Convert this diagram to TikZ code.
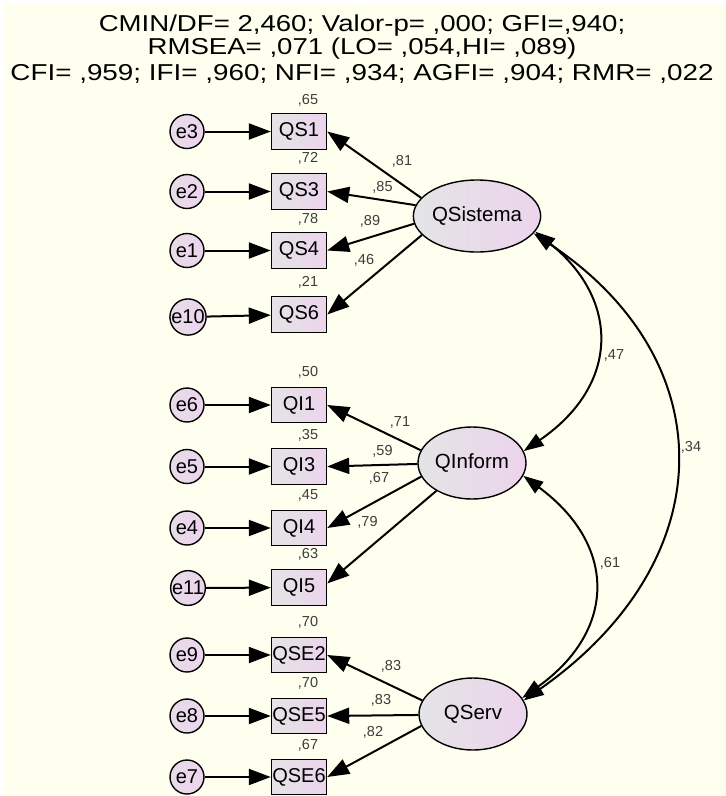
\documentclass[tikz,border=0pt]{standalone}
\usepackage{fontspec}
\setmainfont{Liberation Sans}
\usetikzlibrary{arrows.meta,shapes.geometric}
\definecolor{bgc}{RGB}{255,255,240}
\definecolor{gl}{RGB}{228,228,230}
\definecolor{pk}{RGB}{236,212,236}
\definecolor{labc}{RGB}{60,60,60}
\begin{document}
\begin{tikzpicture}[x=1pt,y=-1pt,
  obs/.style={draw=black,line width=1.4pt,left color=gl,right color=pk,minimum width=55pt,minimum height=35.5pt,inner sep=0pt,font=\fontsize{20}{24}\selectfont},
  err/.style={circle,draw=black,line width=1.4pt,left color=gl!50!pk,right color=pk,minimum size=34pt,inner sep=0pt,font=\fontsize{20}{24}\selectfont},
  lat/.style={ellipse,draw=black,line width=1.4pt,left color=gl,right color=pk,minimum width=108pt,minimum height=72pt,inner sep=0pt,font=\fontsize{20.5}{24}\selectfont},
  lab/.style={text=labc,font=\fontsize{14.5}{17}\selectfont,inner sep=0pt},
  ttl/.style={anchor=base,inner sep=0pt,font=\fontsize{23}{27}\selectfont},
  arr/.style={line width=2pt,-{Triangle[length=22pt,width=16pt]}},
  cov/.style={line width=2pt,{Triangle[length=20pt,width=14pt]}-{Triangle[length=20pt,width=14pt]}},
]
\fill[white] (0,0) rectangle (726,796);
\fill[bgc] (4,3) rectangle (726,796);
\useasboundingbox (0,0) rectangle (726,796);

% title
\node[ttl] (t1) at (362,31) {\scalebox{1.2}[1]{CMIN/DF= 2,460; Valor-p= ,000; GFI=,940;}};
\node[ttl] (t2) at (362,54) {\scalebox{1.2}[1]{RMSEA= ,071 (LO= ,054,HI= ,089)}};
\node[ttl] (t3) at (362,80) {\scalebox{1.21}[1]{CFI= ,959; IFI= ,960; NFI= ,934; AGFI= ,904; RMR= ,022}};

% latent variables
\node[lat] (QSis) at (477,216) {QSistema};
\node[lat] (QInf) at (472,463) {QInform};
\node[lat] (QSer) at (473,714) {QServ};

% observed variables
\node[obs] (QS1) at (299,131.5) {QS1};
\node[obs] (QS3) at (299,191.5) {QS3};
\node[obs] (QS4) at (299,250.5) {QS4};
\node[obs] (QS6) at (299,314.5) {QS6};
\node[obs] (QI1) at (299,405) {QI1};
\node[obs] (QI3) at (299,466.5) {QI3};
\node[obs] (QI4) at (299,528) {QI4};
\node[obs] (QI5) at (299,587.5) {QI5};
\node[obs] (QSE2) at (299,655) {QSE2};
\node[obs] (QSE5) at (299,716) {QSE5};
\node[obs] (QSE6) at (299,777) {QSE6};

% errors
\node[err] (e3) at (187,131.5) {e3};
\node[err] (e2) at (187,191.5) {e2};
\node[err] (e1) at (187,250.5) {e1};
\node[err] (e10) at (188,317) {e10};
\node[err] (e6) at (187,405) {e6};
\node[err] (e5) at (187,466.5) {e5};
\node[err] (e4) at (187,528) {e4};
\node[err] (e11) at (188,588) {e11};
\node[err] (e9) at (187,655) {e9};
\node[err] (e8) at (187,716) {e8};
\node[err] (e7) at (187,777) {e7};

% squared multiple correlations
\node[lab] (r1) at (308,100) {,65};
\node[lab] (r2) at (308,158) {,72};
\node[lab] (r3) at (308,219) {,78};
\node[lab] (r4) at (308,282) {,21};
\node[lab] (r5) at (308,372) {,50};
\node[lab] (r6) at (308,435) {,35};
\node[lab] (r7) at (308,495) {,45};
\node[lab] (r8) at (308,554) {,63};
\node[lab] (r9) at (308,622) {,70};
\node[lab] (r10) at (308,683) {,70};
\node[lab] (r11) at (308,745) {,67};

% error arrows
\foreach \e/\b in {e3/QS1,e2/QS3,e1/QS4,e10/QS6,e6/QI1,e5/QI3,e4/QI4,e11/QI5,e9/QSE2,e8/QSE5,e7/QSE6}
  \draw[arr] (\e) -- (\b);

% loadings
\draw[arr] (QSis.162) -- (QS1.east);
\draw[arr] (QSis.170) -- (QS3.east);
\draw[arr] (QSis.187) -- (QS4.east);
\draw[arr] (QSis.199) -- (QS6.east);
\draw[arr] (QInf.166) -- (QI1.east);
\draw[arr] (QInf.181) -- (QI3.east);
\draw[arr] (QInf.195) -- (QI4.east);
\draw[arr] (QInf.218) -- ([yshift=4pt]QI5.east);
\draw[arr] (QSer.165) -- (QSE2.east);
\draw[arr] (QSer.181) -- (QSE5.east);
\draw[arr] (QSer.193) -- (QSE6.east);

\node[lab] (l1) at (402,161) {,81};
\node[lab] (l2) at (382.5,187.3) {,85};
\node[lab] (l3) at (370,221.7) {,89};
\node[lab] (l4) at (364,260) {,46};
\node[lab] (l5) at (400,422.7) {,71};
\node[lab] (l6) at (382.5,451.7) {,59};
\node[lab] (l7) at (379,478.3) {,67};
\node[lab] (l8) at (367.5,522.7) {,79};
\node[lab] (l9) at (391,666.7) {,83};
\node[lab] (l10) at (381,700) {,83};
\node[lab] (l11) at (373,732.7) {,82};

% covariances
\draw[cov] (QSis.-15) .. controls (620,300) and (620,385) .. (QInf.13);
\draw[cov] (QInf.-14) .. controls (617,545) and (617,630) .. (QSer.18);
\draw[cov] (QSis.-17) .. controls (724,360) and (724,560) .. (QSer.15);
\node[lab] (c1) at (614,355) {,47};
\node[lab] (c2) at (610,563) {,61};
\node[lab] (c3) at (691,447) {,34};
\end{tikzpicture}
\end{document}
